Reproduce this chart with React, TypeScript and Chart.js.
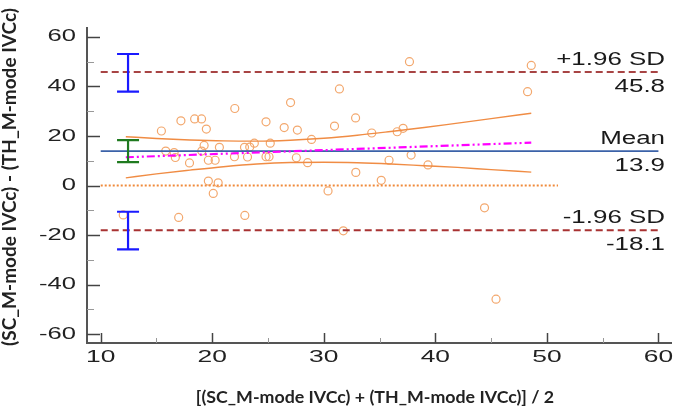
import React, { useEffect, useRef } from "react";
import { Chart, registerables } from "chart.js";
Chart.register(...registerables);

// Bland-Altman data: mean of the two methods (x) and difference (y)
const meanX = [
  15.44, 17.19, 18.42, 19.04, 19.47, 22.02, 24.82, 26.45, 27.63, 30.96,
  31.4, 32.85, 34.3, 28.9, 27.02, 15.83, 16.58, 16.69, 17.96, 19.27,
  19.06, 19.65, 20.26, 20.64, 21.99, 22.89, 23.16, 23.36, 23.77, 24.82,
  25.09, 25.2, 27.54, 28.55, 36.58, 37.11, 37.68, 48.6, 48.27, 37.83,
  35.85, 39.34, 32.87, 35.15, 30.38, 44.41, 31.75, 45.44, 19.65, 20.53,
  20.09, 16.99, 22.92, 12.02,
];
const diffY = [
  22.0, 26.1, 26.9, 26.9, 22.8, 31.1, 25.7, 23.4, 22.4, 24.0,
  39.0, 27.3, 21.2, 18.6, 33.5, 13.9, 13.3, 11.3, 9.1, 16.2,
  13.9, 10.2, 10.2, 15.4, 11.6, 15.4, 11.5, 15.5, 17.1, 11.6,
  11.6, 17.1, 11.2, 9.2, 21.7, 23.1, 50.0, 48.5, 37.9, 12.3,
  10.2, 8.3, 5.3, 2.1, -2.2, -9.0, -18.3, -45.9, 1.8, 1.1,
  -3.2, -12.9, -12.1, -11.9,
];

const MEAN_DIFF = 13.9;
const UPPER_LOA = 45.8;
const LOWER_LOA = -18.1;
const lineSpanX = [10, 60];
const zeroSpanX = [10, 51];

const regX = [12.25, 48.6];
const regY = [11.4, 17.3];

const bandX = [12.25, 15, 18, 21, 24, 27, 30, 33, 36, 39, 42, 45, 48.6];
const bandUpper = [19.7, 19.0, 18.4, 18.0, 17.9, 18.3, 19.1, 20.3, 21.8, 23.4, 25.2, 27.0, 29.2];
const bandLower = [3.1, 4.7, 6.2, 7.6, 8.7, 9.3, 9.4, 9.2, 8.7, 8.0, 7.3, 6.4, 5.4];

const ciX = 12.45;
const ciUpperLoa = [37.9, 53.1];
const ciMean = [9.4, 18.3];
const ciLowerLoa = [-25.8, -10.6];

const xTicks = [10, 20, 30, 40, 50, 60];
const xMinorTicks = [15, 25, 35, 45, 55];
const yTicks = [-60, -40, -20, 0, 20, 40, 60];
const yMinorTicks = [-50, -30, -10, 10, 30, 50];

const xTitle = "[(SC_M-mode IVCc) + (TH_M-mode IVCc)] / 2";
const yTitle = "(SC_M-mode IVCc) - (TH_M-mode IVCc)";

const seg = (xs: number[], ys: number[]) => xs.map((x, i) => ({ x, y: ys[i] }));

export default function App() {
  const ref = useRef<HTMLCanvasElement | null>(null);

  useEffect(() => {
    if (!ref.current) return;
    const lineBase = { type: "line" as const, pointRadius: 0, fill: false, tension: 0 };

    const decor = {
      id: "decor",
      afterDraw(chart: any) {
        const { ctx, chartArea, scales } = chart;
        const xs = scales.x;
        const ys = scales.y;
        ctx.save();
        // inward ticks
        ctx.lineWidth = 1.5;
        ctx.strokeStyle = "#444";
        yTicks.forEach((v) => {
          const p = Math.round(ys.getPixelForValue(v)) + 0.5;
          ctx.beginPath(); ctx.moveTo(chartArea.left, p); ctx.lineTo(chartArea.left + 13, p); ctx.stroke();
        });
        xTicks.forEach((v) => {
          const p = Math.round(xs.getPixelForValue(v)) + 0.5;
          ctx.beginPath(); ctx.moveTo(p, chartArea.bottom); ctx.lineTo(p, chartArea.bottom - 10); ctx.stroke();
        });
        ctx.strokeStyle = "#999";
        ctx.lineWidth = 1;
        yMinorTicks.forEach((v) => {
          const p = Math.round(ys.getPixelForValue(v)) + 0.5;
          ctx.beginPath(); ctx.moveTo(chartArea.left, p); ctx.lineTo(chartArea.left + 7, p); ctx.stroke();
        });
        xMinorTicks.forEach((v) => {
          const p = Math.round(xs.getPixelForValue(v)) + 0.5;
          ctx.beginPath(); ctx.moveTo(p, chartArea.bottom); ctx.lineTo(p, chartArea.bottom - 5); ctx.stroke();
        });

        const stretched = (txt: string, x: number, y: number, align: string, sx: number) => {
          ctx.save();
          ctx.translate(x, y);
          ctx.scale(sx, 1);
          ctx.textAlign = align;
          ctx.fillText(txt, 0, 0);
          ctx.restore();
        };

        // tick labels (horizontally stretched like the reference)
        ctx.fillStyle = "#222";
        ctx.font = "16.5px 'Liberation Sans', Arial, sans-serif";
        ctx.textBaseline = "middle";
        yTicks.forEach((v) => stretched(String(v), chartArea.left - 11, ys.getPixelForValue(v), "right", 1.55));
        xTicks.forEach((v) => stretched(String(v), xs.getPixelForValue(v), 357, "center", 1.6));

        // right-hand labels
        ctx.fillStyle = "#1a1a1a";
        ctx.font = "18px 'Liberation Sans', Arial, sans-serif";
        const rx = 665;
        const lab = (txt: string, v: number, dy: number) => {
          stretched(txt, rx, ys.getPixelForValue(v) + dy, "right", 1.44);
        };
        lab("+1.96 SD", UPPER_LOA, -12);
        lab(UPPER_LOA.toFixed(1), UPPER_LOA, 15);
        lab("Mean", MEAN_DIFF, -12);
        lab(MEAN_DIFF.toFixed(1), MEAN_DIFF, 15);
        lab("-1.96 SD", LOWER_LOA, -12);
        lab(LOWER_LOA.toFixed(1), LOWER_LOA, 15);

        // axis titles
        ctx.fillStyle = "#222";
        ctx.textAlign = "center";
        ctx.font = "bold 17.8px Lato, 'Open Sans', sans-serif";
        ctx.fillText(xTitle, 375, 397);
        ctx.font = "bold 19px Lato, 'Open Sans', sans-serif";
        ctx.translate(10, 177);
        ctx.rotate(-Math.PI / 2);
        ctx.fillText(yTitle, 0, 0);
        ctx.restore();
      },
    };

    const chart = new Chart(ref.current, {
      type: "scatter",
      data: {
        datasets: [
          {
            type: "scatter",
            data: seg(meanX, diffY),
            pointStyle: "circle",
            pointRadius: 4,
            pointBorderWidth: 1.2,
            pointBackgroundColor: "rgba(0,0,0,0)",
            pointBorderColor: "#f3a86e",
            order: 10,
          } as any,
          { ...lineBase, data: seg(lineSpanX, [UPPER_LOA, UPPER_LOA]), borderColor: "#a84444", borderWidth: 2, borderDash: [7, 4], order: 5 },
          { ...lineBase, data: seg(lineSpanX, [LOWER_LOA, LOWER_LOA]), borderColor: "#a83232", borderWidth: 2, borderDash: [7, 4], order: 5 },
          { ...lineBase, data: seg(lineSpanX, [MEAN_DIFF, MEAN_DIFF]), borderColor: "#3b62a8", borderWidth: 1.6, order: 5 },
          { ...lineBase, data: seg(zeroSpanX, [0, 0]), borderColor: "#f08a3a", borderWidth: 2, borderDash: [2, 2], order: 5 },
          { ...lineBase, data: seg(bandX, bandUpper), borderColor: "#f08c44", borderWidth: 1.4, cubicInterpolationMode: "monotone", order: 4 },
          { ...lineBase, data: seg(bandX, bandLower), borderColor: "#f08c44", borderWidth: 1.4, cubicInterpolationMode: "monotone", order: 4 },
          { ...lineBase, data: seg(regX, regY), borderColor: "#ff00ff", borderWidth: 2.2, borderDash: [8, 3, 2, 3, 2, 3], order: 3 },
          {
            ...lineBase, data: seg([ciX, ciX], ciUpperLoa), borderColor: "#1a1aff", borderWidth: 2.2,
            pointRadius: 11, pointStyle: "line", pointBorderColor: "#1a1aff", pointBorderWidth: 2.2, order: 1,
          },
          {
            ...lineBase, data: seg([ciX, ciX], ciLowerLoa), borderColor: "#1a1aff", borderWidth: 2.2,
            pointRadius: 11, pointStyle: "line", pointBorderColor: "#1a1aff", pointBorderWidth: 2.2, order: 1,
          },
          {
            ...lineBase, data: seg([ciX, ciX], ciMean), borderColor: "#1f7a1f", borderWidth: 2.2,
            pointRadius: 11, pointStyle: "line", pointBorderColor: "#1f7a1f", pointBorderWidth: 2.2, order: 1,
          },
        ] as any,
      },
      options: {
        responsive: false,
        animation: false,
        layout: { padding: { top: 28, right: 0, left: 0, bottom: 0 } },
        plugins: { legend: { display: false }, tooltip: { enabled: false } },
        scales: {
          x: {
            type: "linear",
            min: 8.77,
            max: 61.2,
            afterBuildTicks: (s: any) => { s.ticks = xTicks.map((v) => ({ value: v })); },
            afterFit: (s: any) => { s.height = 71; },
            grid: { display: true, drawOnChartArea: false, drawTicks: false },
            border: { display: true, color: "#555", width: 2 },
            ticks: { display: false },
          },
          y: {
            type: "linear",
            min: -63.6,
            max: 63.6,
            afterBuildTicks: (s: any) => { s.ticks = yTicks.map((v) => ({ value: v })); },
            afterFit: (s: any) => { s.width = 87; },
            grid: { display: true, drawOnChartArea: false, drawTicks: false },
            border: { display: true, color: "#555", width: 2 },
            ticks: { display: false },
          },
        },
      } as any,
      plugins: [decor],
    });
    return () => chart.destroy();
  }, []);

  return (
    <div style={{ position: "absolute", left: 0, top: 0, width: 685, height: 414, background: "#fff" }}>
      <canvas ref={ref} width={685} height={414} style={{ display: "block" }} />
    </div>
  );
}
